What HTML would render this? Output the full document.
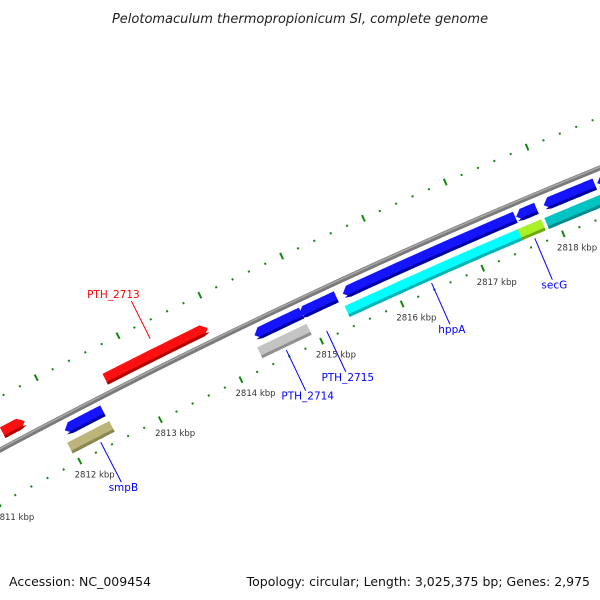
<!DOCTYPE html>
<html><head><meta charset="utf-8"><style>
html,body{margin:0;padding:0;background:#fff;}
svg{display:block;font-family:"DejaVu Sans","Liberation Sans",sans-serif;}
</style></head><body>
<svg id="map" width="600" height="600" viewBox="0 0 600 600" xmlns="http://www.w3.org/2000/svg">
<rect width="600" height="600" fill="#fff"/>
<text x="300" y="23" text-anchor="middle" font-size="13" font-style="italic" fill="#222">Pelotomaculum thermopropionicum SI, complete genome</text>
<g id="ticks"></g><g id="bb"></g><g id="feat"></g><g id="labels"></g>
<text x="9" y="586" font-size="12.5" fill="#111">Accession: NC_009454</text>
<text x="590" y="586" text-anchor="end" font-size="12.5" fill="#111">Topology: circular; Length: 3,025,375 bp; Genes: 2,975</text>
</svg>
<script>
// data (kbp)
const forwardStarts=[2811.0,2811.4,2812.66];
const forwardEnds=[2811.3,2811.67,2813.92];
const reverseStarts=[2812.01,2814.35,2814.9,2815.44,2817.58,2817.92,2818.58];
const reverseEnds=[2812.48,2814.93,2815.36,2817.57,2817.83,2818.55,2819.2];
const cogStarts=[2811.97,2814.32,2815.4,2817.54,2817.87];
const cogEnds=[2812.49,2814.93,2817.55,2817.83,2818.7];
const cogColors=["#bcb478","#c4c4c4","#00ffff","#a8f028","#00c4c4"];
const cogDark=["#8c8650","#909090","#00b4b4","#70a810","#008c8c"];
const majorTicks=[2811,2812,2813,2814,2815,2816,2817,2818,2819];
const tickLabels=["2811 kbp","2812 kbp","2813 kbp","2814 kbp","2815 kbp","2816 kbp","2817 kbp","2818 kbp","2819 kbp"];
const geneLabels=["PTH_2713","smpB","PTH_2714","PTH_2715","hppA","secG"];
const geneLabelK=[2813.3,2812.3,2814.6,2815.1,2816.4,2817.68];
const geneLabelColors=["#ff0000","#0000ff","#0000ff","#0000ff","#0000ff","#0000ff"];
const NS="http://www.w3.org/2000/svg";
function xb(k){return 58+81.2*(k-2812);}
function yb(x){return 450-0.5343*x+1.07e-4*x*x;}
function P(k,d){const x=xb(k),y=yb(x),s=-0.5343+2.14e-4*x,n=Math.sqrt(1+s*s);return [x+d*s/n,y-d/n];}
function mk(tag,attrs,parent){const e=document.createElementNS(NS,tag);for(const a in attrs)e.setAttribute(a,attrs[a]);parent.appendChild(e);return e;}
function arc(k0,k1,d){let p=[];const N=20;for(let i=0;i<=N;i++){p.push(P(k0+(k1-k0)*i/N,d));}return p;}
function band(k0,k1,d0,d1,dir){ // dir: 1 arrow at end, -1 arrow at start, 0 none
  const ak=0.07;let a=k0,b=k1;
  if(dir===1)b=Math.max(k0,k1-ak); if(dir===-1)a=Math.min(k1,k0+ak);
  let pts=arc(a,b,d1);
  if(dir===1)pts.push(P(k1,(d0+d1)/2));
  pts=pts.concat(arc(a,b,d0).reverse());
  if(dir===-1)pts.push(P(k0,(d0+d1)/2));
  return pts.map(p=>p[0].toFixed(1)+","+p[1].toFixed(1)).join(" ");
}
const tg=document.getElementById('ticks'),bg=document.getElementById('bb'),fg=document.getElementById('feat'),lg=document.getElementById('labels');
// ticks
[47,-47].forEach((d,ri)=>{
  for(let k=2810.8;k<=2819.4;k+=0.2){
    const km=Math.abs(k-Math.round(k))<0.01;
    const h=km?3.5:1;
    const a=P(k,d-h),b=P(k,d+h);
    const l=mk('line',{x1:a[0],y1:a[1],x2:b[0],y2:b[1],stroke:'#118811','stroke-width':km?2:2},tg);
    
    
  }
});
majorTicks.forEach((k,i)=>{
  const p=P(k,-62);
  const t=mk('text',{x:p[0]+8,y:p[1]+3,'text-anchor':'middle','font-size':'8.5',fill:'#333'},tg);
  t.textContent=tickLabels[i];
  
  
});
// backbone
const bp=arc(2810.5,2819.5,0).map(p=>p.join(",")).join(" ");
const b1=mk('polyline',{points:bp,fill:'none',stroke:'#7a7a7a','stroke-width':5},bg);


mk('polyline',{points:arc(2810.5,2819.5,1).map(p=>p.join(",")).join(" "),fill:'none',stroke:'#a8a8a8','stroke-width':1.5},bg);
// features
function drawFeat(k0,k1,d,h,col,dark,dir,name){
  const g=mk('g',{},fg);
  
  
  mk('polygon',{points:band(k0,k1,d-h/2,d+h/2,dir),fill:col},g);
  mk('polygon',{points:band(k0,k1,d-h/2,d-h/2+3,dir),fill:dark},g);
}
forwardStarts.forEach((s,i)=>drawFeat(s,forwardEnds[i],14,12,'#ff1010','#b00000',1,'forward-gene'));
reverseStarts.forEach((s,i)=>drawFeat(s,reverseEnds[i],-13,12,'#1414ff','#0000a0',-1,'reverse-gene'));
cogStarts.forEach((s,i)=>drawFeat(s,cogEnds[i],-31,12,cogColors[i],cogDark[i],0,'cog-feature'));
// gene labels
geneLabels.forEach((g,i)=>{
  const k=geneLabelK[i], out=i===0;
  const a=P(k,out?30:-40), b=P(k,out?72:-85);
  const ln=mk('line',{x1:a[0],y1:a[1],x2:b[0],y2:b[1],stroke:geneLabelColors[i],'stroke-width':1},lg);
  
  
  const t=mk('text',{x:b[0]+(out?-18:2),y:b[1]+(out?-3:9),'text-anchor':'middle','font-size':'10.5',fill:geneLabelColors[i]},lg);
  t.textContent=g;
  
  
});
</script>
</body></html>
